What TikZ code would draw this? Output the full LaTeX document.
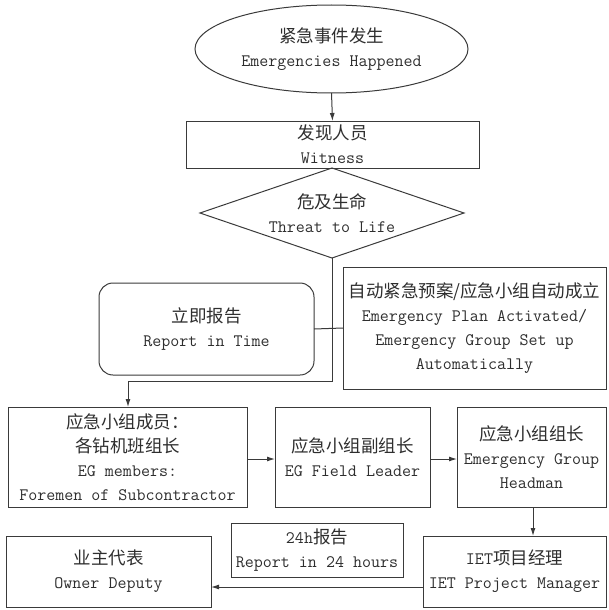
\documentclass[tikz,border=0pt]{standalone}
\usepackage{fontspec}
\newfontfamily\cjk{Noto Sans CJK SC}
\usetikzlibrary{arrows.meta,shapes.geometric}
\definecolor{lc}{HTML}{3A3A3A}
\definecolor{tc}{HTML}{2E2E2E}
\newcommand\zh[1]{{\cjk\fontsize{17.5}{24}\selectfont #1}}
\begin{document}
\begin{tikzpicture}[x=1pt,y=-1pt,
  lbl/.style={text=tc, align=center, font=\ttfamily\fontsize{17.5}{24}\selectfont, inner sep=0pt, outer sep=0pt},
  box/.style={lbl, draw=lc, line width=1pt, rectangle},
  arr/.style={draw=lc, line width=1pt, -{Latex[length=8pt,width=5pt]}},
  ln/.style={draw=lc, line width=1pt}]
\useasboundingbox (0,0) rectangle (608,610);
% top
\node[box, ellipse, minimum width=273pt, minimum height=88pt] (e) at (331.5,49) {\zh{紧急事件发生}\\Emergencies Happened};
\node[box, minimum width=293pt, minimum height=47pt] (w) at (332.5,144.5) {\zh{发现人员}\\Witness};
\node[draw=lc, line width=1pt, diamond, aspect=2.93, minimum width=264pt, minimum height=90pt, inner sep=0pt, outer sep=0pt] (d) at (332,213) {};
\node[lbl] (dt) at (d.center) {\zh{危及生命}\\Threat to Life};
\node[box, rounded corners=14pt, minimum width=215pt, minimum height=92pt] (r) at (206.5,329) {\zh{立即报告}\\Report in Time};
\node[box, minimum width=263pt, minimum height=122pt] (a) at (474.5,328) {\zh{自动紧急预案/应急小组自动成立}\\Emergency Plan Activated/\\Emergency Group Set up\\Automatically};
% row
\node[box, minimum width=239pt, minimum height=100pt] (b1) at (127.5,457) {\zh{应急小组成员：}\\\zh{各钻机班组长}\\EG members:\\Foremen of Subcontractor};
\node[box, minimum width=155pt, minimum height=100pt] (b2) at (352.5,457) {\zh{应急小组副组长}\\EG Field Leader};
\node[box, minimum width=149pt, minimum height=100pt] (b3) at (531.5,457) {\zh{应急小组组长}\\Emergency Group\\Headman};
% bottom
\node[box, minimum width=205pt, minimum height=71pt] (o) at (108.5,571.5) {\zh{业主代表}\\Owner Deputy};
\node[box, minimum width=183pt, minimum height=71pt] (iet) at (514.5,571.5) {IET\zh{项目经理}\\IET Project Manager};
\node[box, minimum width=172pt, minimum height=54pt] (h) at (317,550) {24h\zh{报告}\\Report in 24 hours};
% connectors
\coordinate (k1) at (332,381);
\coordinate (k2) at (128,381);
\coordinate (y587) at (0,587);
\draw[arr] (e.south) -- (w.north);
\draw[arr] (d.south) -- (k1) -- (k2) -- (k2 |- b1.north);
\draw[ln] (r.east) -- (a.west);
\draw[arr] ([yshift=-2pt]b1.east) -- ([yshift=-2pt]b2.west);
\draw[arr] ([yshift=-2pt]b2.east) -- ([yshift=-2pt]b3.west);
\draw[arr] ([xshift=1.5pt]b3.south) -- ([xshift=1.5pt]b3.south |- iet.north);
\draw[arr] (iet.west |- y587) -- (o.east |- y587);
\end{tikzpicture}
\end{document}
